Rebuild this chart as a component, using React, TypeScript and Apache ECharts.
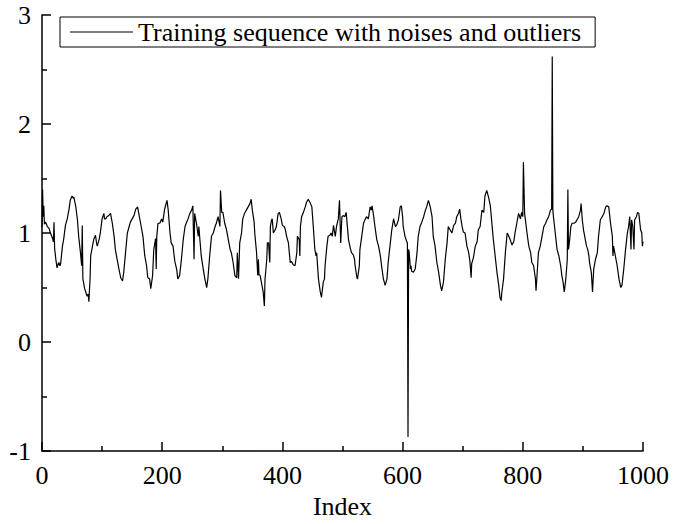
import React, { useEffect, useRef } from "react";
import * as echarts from "echarts";

const seriesName = "Training sequence with noises and outliers";
const xTicks = [0, 200, 400, 600, 800, 1000];
const yTicks = [-1, 0, 1, 2, 3];

const indexValues = [
  0, 1, 2, 3, 4, 6, 9, 12, 14, 17, 19, 20, 21, 23, 25, 27, 28, 30, 31, 34, 36, 39, 42, 45, 47, 50, 52, 53, 56, 59,
  61, 64, 66, 67, 68, 71, 75, 77, 78, 79, 80, 81, 84, 86, 89, 91, 92, 95, 97, 100, 103, 104, 106, 108, 111, 114, 117, 120, 122, 125,
  128, 131, 134, 136, 139, 142, 145, 147, 150, 153, 156, 159, 161, 165, 168, 171, 174, 176, 179, 181, 184, 186, 189, 190, 191, 193, 196, 199, 201, 204,
  207, 208, 210, 213, 215, 218, 221, 224, 226, 229, 232, 235, 238, 240, 243, 246, 249, 251, 253, 254, 257, 260, 261, 263, 265, 268, 271, 274, 276, 279,
  282, 285, 288, 290, 293, 296, 297, 299, 301, 304, 307, 310, 313, 315, 318, 321, 324, 325, 327, 329, 332, 334, 337, 340, 343, 346, 348, 350, 353, 354,
  357, 359, 360, 361, 363, 365, 368, 370, 371, 374, 375, 377, 379, 380, 382, 383, 385, 388, 390, 393, 395, 398, 400, 403, 405, 407, 410, 413, 415, 418,
  421, 424, 425, 428, 429, 430, 432, 435, 438, 440, 443, 446, 449, 451, 454, 456, 457, 460, 463, 465, 468, 470, 471, 474, 476, 479, 481, 483, 485, 488,
  490, 493, 495, 497, 499, 501, 504, 506, 507, 510, 513, 515, 518, 520, 521, 524, 525, 528, 529, 532, 535, 538, 540, 543, 546, 548, 549, 551, 554, 557,
  560, 563, 565, 568, 571, 574, 576, 579, 582, 585, 588, 590, 593, 596, 598, 600, 601, 604, 607, 608, 609, 610, 611, 613, 614, 615, 618, 621, 624, 626,
  629, 632, 635, 638, 640, 643, 646, 649, 651, 654, 657, 660, 663, 665, 668, 671, 674, 676, 679, 682, 685, 688, 690, 693, 695, 697, 699, 701, 704, 707,
  710, 712, 714, 715, 718, 721, 724, 726, 729, 732, 735, 737, 740, 743, 746, 749, 751, 754, 757, 760, 762, 764, 765, 768, 771, 774, 776, 779, 782, 785,
  787, 790, 793, 796, 798, 800, 801, 803, 805, 807, 810, 813, 815, 818, 821, 822, 824, 826, 829, 832, 835, 838, 840, 843, 846, 848, 849, 850, 851, 854,
  857, 860, 863, 865, 867, 869, 871, 872, 874, 875, 876, 878, 880, 882, 885, 888, 890, 893, 896, 897, 899, 901, 904, 906, 908, 910, 911, 914, 916, 918,
  921, 924, 926, 929, 932, 935, 938, 940, 943, 946, 949, 950, 951, 954, 957, 960, 963, 965, 968, 971, 974, 976, 978, 980, 981, 983, 985, 986, 989, 991,
  993, 996, 998, 999, 1000,
];

const sequenceValues = [
  1.05, 1.4, 1.15, 1.25, 1.08, 1.1, 1.06, 1.04, 1.0, 0.96, 0.92, 1.1, 0.86, 0.76, 0.68, 0.72, 0.73, 0.7, 0.72, 0.88, 0.94, 1.07, 1.13, 1.22, 1.3, 1.34, 1.32, 1.33, 1.25, 1.12,
  0.97, 0.82, 0.7, 1.07, 0.58, 0.49, 0.42, 0.44, 0.37, 0.48, 0.58, 0.79, 0.88, 0.94, 0.98, 0.9, 0.88, 0.94, 1.0, 1.13, 1.18, 1.13, 1.13, 1.15, 1.16, 1.18, 1.09, 0.97, 0.85, 0.76,
  0.67, 0.59, 0.56, 0.64, 0.82, 1.0, 1.06, 1.1, 1.13, 1.16, 1.22, 1.24, 1.18, 1.06, 0.97, 0.79, 0.7, 0.59, 0.58, 0.49, 0.61, 0.85, 0.95, 0.67, 0.97, 1.09, 1.09, 1.13, 1.1, 1.22,
  1.28, 1.3, 1.21, 1.0, 0.91, 0.88, 0.74, 0.67, 0.58, 0.61, 0.76, 0.94, 1.06, 1.09, 1.13, 1.18, 1.21, 1.25, 0.76, 1.18, 1.09, 0.97, 1.06, 0.92, 0.79, 0.68, 0.58, 0.5, 0.58, 0.79,
  0.97, 1.0, 1.06, 1.09, 1.15, 1.06, 1.39, 1.19, 1.19, 1.09, 1.03, 0.94, 0.85, 0.82, 0.73, 0.61, 0.59, 0.82, 0.58, 0.91, 1.0, 1.13, 1.18, 1.21, 1.24, 1.27, 1.31, 1.21, 1.1, 1.0,
  0.82, 0.61, 0.76, 0.62, 0.61, 0.55, 0.46, 0.33, 0.57, 0.76, 0.91, 0.91, 0.73, 1.06, 1.12, 1.13, 1.0, 1.03, 1.06, 1.18, 1.19, 1.13, 1.07, 1.06, 1.03, 0.97, 0.91, 0.73, 0.74, 0.71,
  0.7, 0.82, 0.97, 0.94, 0.79, 1.06, 1.15, 1.19, 1.24, 1.28, 1.31, 1.28, 1.24, 1.09, 0.85, 0.79, 0.82, 0.58, 0.46, 0.41, 0.55, 0.58, 0.7, 0.88, 0.97, 0.98, 1.0, 0.97, 1.07, 0.97,
  1.06, 1.13, 1.3, 0.91, 1.15, 1.16, 1.15, 1.19, 1.13, 0.94, 0.86, 0.82, 0.8, 0.76, 0.7, 0.59, 0.58, 0.7, 0.85, 0.97, 1.09, 1.13, 1.15, 1.13, 1.24, 1.21, 1.25, 1.19, 1.06, 0.94,
  0.88, 0.79, 0.7, 0.58, 0.52, 0.58, 0.73, 0.88, 1.03, 1.13, 1.06, 1.07, 1.12, 1.24, 1.25, 1.15, 1.06, 0.97, 0.92, 0.91, -0.87, 0.85, 0.82, 0.67, 0.7, 0.65, 0.64, 0.67, 0.82, 0.97,
  1.06, 1.1, 1.15, 1.21, 1.24, 1.3, 1.24, 1.15, 0.97, 0.88, 0.73, 0.64, 0.52, 0.47, 0.55, 0.76, 0.91, 1.06, 1.03, 1.0, 1.07, 1.09, 1.15, 1.18, 1.22, 1.13, 1.06, 1.01, 1.0, 0.88,
  0.82, 0.74, 0.59, 0.72, 0.78, 0.88, 0.92, 1.03, 1.06, 1.21, 1.19, 1.34, 1.39, 1.33, 1.25, 1.06, 0.94, 0.79, 0.64, 0.52, 0.41, 0.38, 0.45, 0.58, 0.82, 1.0, 0.98, 0.94, 0.89, 0.92,
  1.0, 1.09, 1.18, 1.13, 1.19, 1.15, 1.65, 1.18, 1.09, 1.0, 0.88, 0.82, 0.73, 0.7, 0.58, 0.47, 0.64, 0.82, 0.88, 0.97, 1.06, 1.09, 1.12, 1.15, 1.21, 1.22, 2.62, 1.21, 1.15, 1.0,
  0.85, 0.79, 0.7, 0.61, 0.55, 0.46, 0.55, 0.61, 0.76, 1.4, 0.85, 0.94, 1.06, 1.09, 1.09, 1.1, 1.12, 1.15, 1.21, 1.27, 1.12, 1.03, 0.94, 0.88, 0.85, 0.79, 0.73, 0.64, 0.46, 0.67,
  0.76, 0.82, 0.97, 1.12, 1.15, 1.18, 1.24, 1.25, 1.24, 1.09, 0.97, 0.79, 0.88, 0.79, 0.7, 0.58, 0.5, 0.52, 0.67, 0.85, 1.0, 1.06, 1.15, 0.85, 1.12, 1.06, 0.85, 1.12, 1.15, 1.19,
  1.18, 1.03, 1.0, 0.88, 0.92,
];

const FONT = "'Liberation Serif', 'Times New Roman', serif";

export default function App() {
  const ref = useRef<HTMLDivElement>(null);

  useEffect(() => {
    if (!ref.current) return;
    const chart = echarts.init(ref.current, null, { renderer: "svg" });
    const data = indexValues.map((x, k) => [x, sequenceValues[k]]);
    chart.setOption({
      animation: false,
      backgroundColor: "#fff",
      grid: { left: 42, right: 30, top: 15, bottom: 66, containLabel: false },
      legend: {
        left: 60,
        top: 17,
        padding: [2, 14, 2, 10],
        borderColor: "#000",
        borderWidth: 1,
        icon: "rect",
        itemWidth: 63,
        itemHeight: 1,
        data: [seriesName],
        textStyle: { fontFamily: FONT, fontSize: 26, color: "#000" },
      },
      xAxis: {
        type: "value",
        min: xTicks[0],
        max: xTicks[xTicks.length - 1],
        interval: 200,
        name: "Index",
        nameLocation: "middle",
        nameGap: 38,
        nameTextStyle: { fontFamily: FONT, fontSize: 26, color: "#000" },
        axisLine: { show: true, onZero: false, lineStyle: { color: "#000", width: 1.5 } },
        axisTick: { show: true, inside: true, length: 9, lineStyle: { color: "#000", width: 1.5 } },
        minorTick: { show: true, splitNumber: 2, length: 5, lineStyle: { color: "#000", width: 1.5 } },
        axisLabel: {
          fontFamily: FONT,
          fontSize: 26,
          color: "#000",
          margin: 11,
          formatter: (v: number) => String(v),
        },
        splitLine: { show: false },
      },
      yAxis: {
        type: "value",
        min: yTicks[0],
        max: yTicks[yTicks.length - 1],
        interval: 1,
        axisLine: { show: true, onZero: false, lineStyle: { color: "#000", width: 1.5 } },
        axisTick: { show: true, inside: true, length: 9, lineStyle: { color: "#000", width: 1.5 } },
        minorTick: { show: true, splitNumber: 2, length: 5, lineStyle: { color: "#000", width: 1.5 } },
        axisLabel: {
          fontFamily: FONT,
          fontSize: 26,
          color: "#000",
          margin: 11,
          formatter: (v: number) => String(v),
        },
        splitLine: { show: false },
      },
      series: [
        {
          name: seriesName,
          type: "line",
          data,
          symbol: "none",
          lineStyle: { color: "#000", width: 1.2 },
          itemStyle: { color: "#000" },
        },
      ],
    });
    return () => chart.dispose();
  }, []);

  return (
    <div
      ref={ref}
      style={{ position: "absolute", left: 0, top: 0, width: 673, height: 524 }}
    />
  );
}
